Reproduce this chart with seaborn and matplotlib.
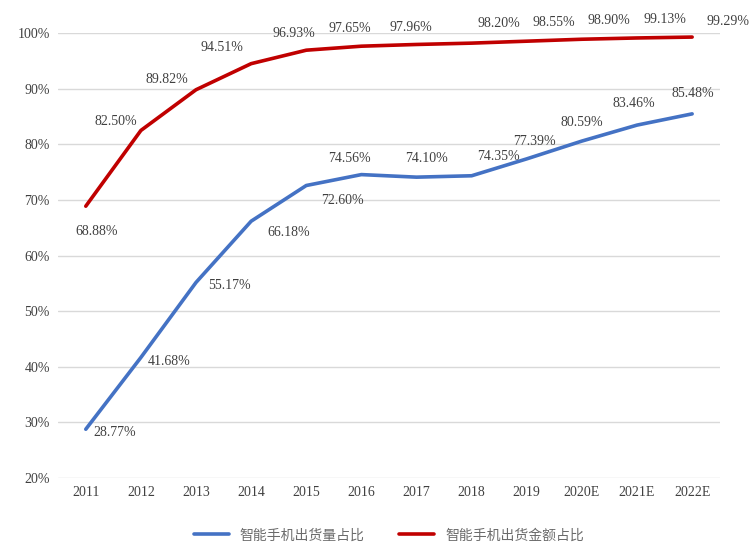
import pandas as pd
import seaborn as sns
import matplotlib.pyplot as plt
from matplotlib.ticker import PercentFormatter

# 数据
years = ['2011', '2012', '2013', '2014', '2015', '2016', '2017', '2018',
         '2019', '2020E', '2021E', '2022E']
volume_share = [28.77, 41.68, 55.17, 66.18, 72.60, 74.56, 74.10, 74.35,
                77.39, 80.59, 83.46, 85.48]
value_share = [68.88, 82.50, 89.82, 94.51, 96.93, 97.65, 97.96, 98.20,
               98.55, 98.90, 99.13, 99.29]
names = ['智能手机出货量占比', '智能手机出货金额占比']

# 标签偏移 (像素)
vol_off = [(29, -3), (28, -4), (33, -3), (38, -11), (36, -15), (-12, 16), (10, 19),
           (27, 19), (8, 17), (0, 19), (-3, 22), (1, 20)]
val_off = [(11, -25), (-25, 9), (-29, 10), (-29, 16), (-12, 17), (-12, 18), (-6, 17),
           (27, 20), (27, 19), (27, 19), (28, 18), (36, 16)]

df = pd.DataFrame({
    'year': years * 2,
    'share': volume_share + value_share,
    'series': [names[0]] * len(years) + [names[1]] * len(years),
})

sns.set_style('white')
plt.rcParams['font.family'] = ['Liberation Serif', 'Noto Sans CJK SC']

fig = plt.figure(figsize=(7.56, 5.43), dpi=100)
ax = fig.add_axes([0.077, 0.1197, 0.875, 0.8193])

palette = {names[0]: '#4472C4', names[1]: '#C00000'}
sns.lineplot(data=df, x='year', y='share', hue='series', palette=palette,
             linewidth=2.6, ax=ax, sort=False)

ax.set_xlim(-0.5, len(years) - 0.5)
ax.set_ylim(20, 100)
ax.set_yticks(range(20, 101, 10))
ax.yaxis.set_major_formatter(PercentFormatter(decimals=0))
ax.grid(axis='y', color='#d9d9d9', linewidth=1)
ax.set_axisbelow(True)
for s in ax.spines.values():
    s.set_visible(False)
ax.set_xlabel('')
ax.set_ylabel('')
ax.tick_params(axis='both', length=0, labelsize=10, colors='#404040', pad=6)

for vals, offs in [(volume_share, vol_off), (value_share, val_off)]:
    for i, (v, (dx, dy)) in enumerate(zip(vals, offs)):
        ax.annotate(f'{v:.2f}%', (i, v), xytext=(dx * 0.72, dy * 0.72),
                    textcoords='offset points', ha='center', va='center',
                    fontsize=10, color='#404040', annotation_clip=False)

leg = ax.legend(loc='upper center', bbox_to_anchor=(0.5, -0.085), ncol=2,
                frameon=False, handlelength=2.5, columnspacing=2.5,
                prop={'family': ['Noto Sans CJK SC'], 'size': 10})
for t in leg.get_texts():
    t.set_color('#6b6b6b')

fig.savefig('out.png', dpi=100)
